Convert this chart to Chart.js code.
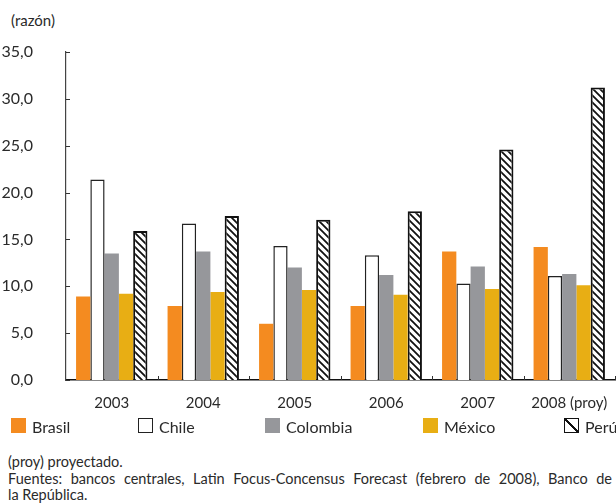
<!DOCTYPE html>
<html>
<head>
<meta charset="utf-8">
<script src="https://cdn.jsdelivr.net/npm/chart.js@4.4.1/dist/chart.umd.min.js"></script>
<style>
  body { margin: 0; background: #fff; }
  #wrap { position: relative; width: 616px; height: 504px; overflow: hidden; font-family: Lato, "Open Sans", sans-serif; color: #2a2a2a; }
  #chartBox { position: absolute; left: 0; top: 0; width: 616px; height: 430px; }
  #unit { position: absolute; left: 11px; top: 11px; font-size: 15px; line-height: 18px; }
  .leg { position: absolute; top: 418px; font-size: 16px; line-height: 18px; white-space: nowrap; }
  .sw { position: absolute; left: 0; top: 0; width: 15px; height: 15px; box-sizing: border-box; }
  .note { position: absolute; left: 8px; font-size: 14.5px; line-height: 16px; white-space: nowrap; }
  #src1 { width: 604px; text-align: justify; text-align-last: justify; white-space: normal; }
</style>
</head>
<body>
<div id="wrap">
  <div id="unit">(razón)</div>
  <div id="chartBox"><canvas id="chart"></canvas></div>
  <div id="legend"></div>
  <div class="note" style="top:454px">(proy) proyectado.</div>
  <div class="note" id="src1" style="top:471px">Fuentes: bancos centrales, Latin Focus-Concensus Forecast (febrero de 2008), Banco de</div>
  <div class="note" style="top:487px">la República.</div>
</div>
<script>
const years = ['2003', '2004', '2005', '2006', '2007', '2008 (proy)'];
const brasil   = [8.9, 7.9, 6.0, 7.9, 13.7, 14.2];
const chile    = [21.4, 16.7, 14.3, 13.3, 10.3, 11.1];
const colombia = [13.5, 13.7, 12.0, 11.2, 12.1, 11.3];
const mexico   = [9.2, 9.4, 9.6, 9.1, 9.7, 10.1];
const peru     = [15.9, 17.5, 17.1, 18.0, 24.6, 31.2];
const yTicks   = [0, 5, 10, 15, 20, 25, 30, 35];

const legendItems = [
    { label: 'Brasil',   x: 11,  sw: 'background:#F48B20' },
    { label: 'Chile',    x: 138, sw: 'background:#fff;border:1.5px solid #222' },
    { label: 'Colombia', x: 265, sw: 'background:#96979B' },
    { label: 'México',   x: 423, sw: 'background:#E8AE14' },
    { label: 'Perú',     x: 564, sw: 'border:1.5px solid #111;background:linear-gradient(45deg,#fff 0 44%,#111 44% 56%,#fff 56% 100%)' }
];

const legendEl = document.getElementById('legend');
legendItems.forEach(it => {
    const d = document.createElement('div');
    d.className = 'leg';
    d.style.left = it.x + 'px';
    d.style.paddingLeft = '21px';
    d.innerHTML = `<span class="sw" style="${it.sw}"></span>${it.label}`;
    legendEl.appendChild(d);
});

// diagonal hatch for Perú
function makeHatch() {
    const c = document.createElement('canvas');
    const s = 7;
    c.width = s; c.height = s;
    const g = c.getContext('2d');
    g.fillStyle = '#fff';
    g.fillRect(0, 0, s, s);
    g.strokeStyle = '#111';
    g.lineWidth = 1.8;
    g.beginPath();
    g.moveTo(-1, -1); g.lineTo(s + 1, s + 1);
    g.moveTo(-1, s - 1); g.lineTo(1, s + 1);
    g.moveTo(s - 1, -1); g.lineTo(s + 1, 1);
    g.stroke();
    return g.createPattern(c, 'repeat');
}
const hatch = makeHatch();

// small inward ticks on both axes
const axisTicks = {
    id: 'axisTicks',
    afterDraw(chart) {
        const { ctx, chartArea, scales } = chart;
        const xs = scales.x, ys = scales.y;
        ctx.save();
        ctx.strokeStyle = '#333';
        ctx.lineWidth = 1;
        yTicks.forEach(v => {
            const py = Math.round(ys.getPixelForValue(v)) + 0.5;
            ctx.beginPath();
            ctx.moveTo(chartArea.left, py);
            ctx.lineTo(chartArea.left + 4, py);
            ctx.stroke();
        });
        const step = xs.getPixelForValue(1) - xs.getPixelForValue(0);
        for (let i = 0; i < years.length; i++) {
            const px = Math.round(xs.getPixelForValue(i) + step / 2) + 0.5;
            ctx.beginPath();
            ctx.moveTo(px, chartArea.bottom);
            ctx.lineTo(px, chartArea.bottom - 4);
            ctx.stroke();
        }
        ctx.restore();
    }
};

const common = { barPercentage: 1, categoryPercentage: 0.78 };

new Chart(document.getElementById('chart'), {
    type: 'bar',
    data: {
        labels: years,
        datasets: [
            { label: 'Brasil', data: brasil, backgroundColor: '#F48B20', borderWidth: 0, ...common },
            { label: 'Chile', data: chile, backgroundColor: '#fff', borderColor: '#222', borderWidth: 1.5, ...common },
            { label: 'Colombia', data: colombia, backgroundColor: '#96979B', borderWidth: 0, ...common },
            { label: 'México', data: mexico, backgroundColor: '#E8AE14', borderWidth: 0, ...common },
            { label: 'Perú', data: peru, backgroundColor: hatch, borderColor: '#111', borderWidth: 2, ...common }
        ]
    },
    options: {
        responsive: true,
        maintainAspectRatio: false,
        animation: false,
        layout: { padding: { top: 52, right: 1, left: 0, bottom: 0 } },
        plugins: { legend: { display: false }, tooltip: { enabled: false } },
        scales: {
            x: {
                grid: { display: false },
                border: { display: true, color: '#111', width: 1.5 },
                ticks: { color: '#2a2a2a', font: { family: 'Lato', size: 15 }, padding: 6 },
                afterFit: s => { s.height = 50; }
            },
            y: {
                min: 0,
                max: 35,
                grid: { display: false },
                border: { display: true, color: '#444', width: 1.2 },
                afterBuildTicks: s => { s.ticks = yTicks.map(v => ({ value: v })); },
                ticks: {
                    color: '#2a2a2a',
                    font: { family: 'Lato', size: 16 },
                    padding: 25,
                    callback: v => v.toFixed(1).replace('.', ',')
                },
                afterFit: s => { s.width = 66; }
            }
        }
    },
    plugins: [axisTicks]
});
</script>
</body>
</html>
